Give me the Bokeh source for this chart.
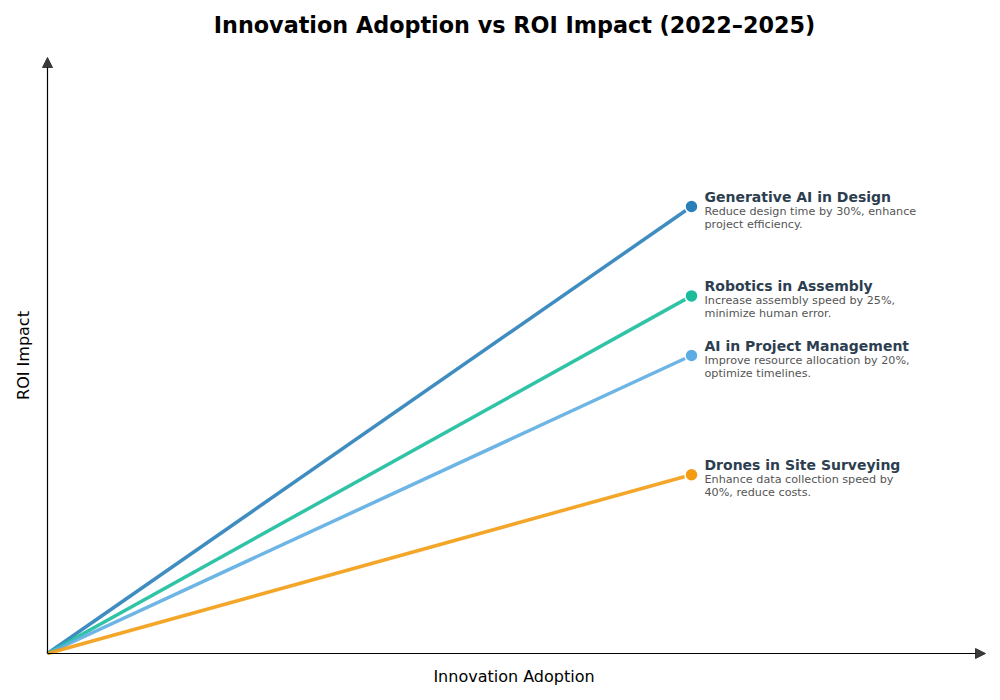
import math
from bokeh.plotting import figure
from bokeh.models import Range1d, Arrow, NormalHead, ColumnDataSource
from bokeh.embed import file_html
from bokeh.resources import INLINE
from bokeh.core.properties import value

# Data
names = ["Generative AI in Design", "Robotics in Assembly",
         "AI in Project Management", "Drones in Site Surveying"]
descriptions = ["Reduce design time by 30%, enhance\nproject efficiency.",
                "Increase assembly speed by 25%,\nminimize human error.",
                "Improve resource allocation by 20%,\noptimize timelines.",
                "Enhance data collection speed by\n40%, reduce costs."]
adoption_start = [0.0, 0.0, 0.0, 0.0]
roi_start = [0.0, 0.0, 0.0, 0.0]
adoption_end = [1.0, 1.0, 1.0, 1.0]
roi_end = [0.75, 0.6, 0.5, 0.3]
colors = ["#2980b9", "#1abc9c", "#5dade2", "#f39c12"]

title_text = "Innovation Adoption vs ROI Impact (2022–2025)"
x_label = "Innovation Adoption"
y_label = "ROI Impact"

# layout: the frame covers the whole canvas; axes drawn as arrows
W, H = 1000, 700
ORIGIN_PX = (47, 653)          # pixel position of (0, 0)
PX_PER_X, PX_PER_Y = 644.0, 596.0
X_AXIS_MAX = 938 / PX_PER_X    # arrow tip
Y_AXIS_MAX = 1.0
FONT = "DejaVu Sans"


def dx(px):
    return (px - ORIGIN_PX[0]) / PX_PER_X


def dy(py):
    return (ORIGIN_PX[1] - py) / PX_PER_Y


p = figure(width=W, height=H, frame_width=W, frame_height=H,
           x_range=Range1d(dx(0), dx(W)), y_range=Range1d(dy(H), dy(0)),
           output_backend="svg", toolbar_location=None,
           min_border=0)
p.axis.visible = False
p.grid.visible = False
p.outline_line_color = None
p.background_fill_color = "white"
p.border_fill_color = "white"

# axis arrows
head = dict(size=10, fill_color="#3a3a3a", line_color="#3a3a3a")
p.add_layout(Arrow(end=NormalHead(**head),
                   x_start=0, y_start=0, x_end=X_AXIS_MAX, y_end=0,
                   line_color="#000000", line_width=1.2))
p.add_layout(Arrow(end=NormalHead(**head),
                   x_start=0, y_start=0, x_end=0, y_end=Y_AXIS_MAX,
                   line_color="#000000", line_width=1.2))

for i in range(len(names)):
    p.line([adoption_start[i], adoption_end[i]], [roi_start[i], roi_end[i]],
           line_color=colors[i], line_width=3.5, line_alpha=0.9)

src = ColumnDataSource(dict(x=adoption_end, y=roi_end, c=colors,
                            name=names, desc=descriptions))
p.scatter("x", "y", source=src, size=13, fill_color="c",
          line_color="white", line_width=1.5)

p.text("x", "y", text="name", source=src, x_offset=13, y_offset=-10,
       text_font=value(FONT), text_font_size="14px", text_font_style="bold",
       text_color="#2c3e50", text_baseline="middle", text_align="left")
p.text("x", "y", text="desc", source=src, x_offset=13, y_offset=-2,
       text_font=value(FONT), text_font_size="11.2px",
       text_color="#555555", text_baseline="top", text_align="left",
       text_line_height=1.0)

# title and axis labels
p.text(x=[dx(514)], y=[dy(24)], text=[title_text],
       text_font=value(FONT), text_font_size="22.3px", text_font_style="bold",
       text_color="#000000", text_align="center", text_baseline="alphabetic")
p.text(x=[dx(513.5)], y=[dy(676)], text=[x_label],
       text_font=value(FONT), text_font_size="16px",
       text_color="#000000", text_align="center", text_baseline="alphabetic")
p.text(x=[dx(23)], y=[dy(355)], text=[y_label], angle=math.pi / 2,
       text_font=value(FONT), text_font_size="16px",
       text_color="#000000", text_align="center", text_baseline="alphabetic")

open("out.html", "w").write(file_html(p, INLINE))
